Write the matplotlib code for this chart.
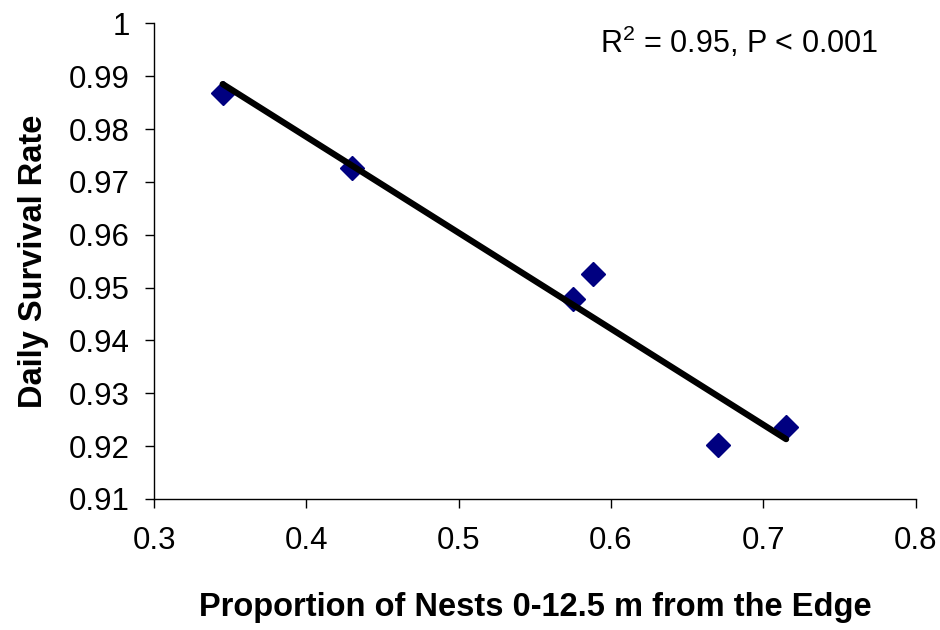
import matplotlib
matplotlib.use("Agg")
import matplotlib.pyplot as plt
import numpy as np

# nest edge proportion vs daily survival rate
edge_prop = [0.345, 0.43, 0.575, 0.588, 0.67, 0.715]
survival = [0.9868, 0.9726, 0.9478, 0.9525, 0.9202, 0.9236]

x_ticks = [0.3, 0.4, 0.5, 0.6, 0.7, 0.8]
y_ticks = [0.91, 0.92, 0.93, 0.94, 0.95, 0.96, 0.97, 0.98, 0.99, 1.0]
y_ticklabels = ["0.91", "0.92", "0.93", "0.94", "0.95", "0.96", "0.97", "0.98", "0.99", "1"]

plt.rcParams.update({
    "font.family": ["Liberation Sans", "DejaVu Sans"],
    "mathtext.default": "regular",
})

fig = plt.figure(figsize=(9.4, 6.3), dpi=100)
ax = fig.add_axes([0.164, 0.208, 0.81, 0.755])

x = np.array(edge_prop)
y = np.array(survival)
slope, intercept = np.polyfit(x, y, 1)
xs = np.array([x.min(), x.max()])
ax.plot(xs, slope * xs + intercept, color="black", linewidth=4.5,
        solid_capstyle="round", zorder=3)
ax.plot(x, y, linestyle="none", marker="D", markersize=12.5,
        color="#000080", zorder=2)

ax.set_xlim(0.3, 0.8)
ax.set_ylim(0.91, 1.0)
ax.set_xticks(x_ticks)
ax.set_xticklabels([f"{t:g}" for t in x_ticks])
ax.set_yticks(y_ticks)
ax.set_yticklabels(y_ticklabels)
ax.tick_params(direction="out", length=6.5, width=1, labelsize=22.5)
ax.tick_params(axis="y", pad=11)
ax.tick_params(axis="x", pad=13)

for side in ["top", "right"]:
    ax.spines[side].set_visible(False)
for side in ["left", "bottom"]:
    ax.spines[side].set_linewidth(1)

ax.set_xlabel("Proportion of Nests 0-12.5 m from the Edge",
              fontsize=23.5, fontweight="bold", labelpad=26)
ax.set_ylabel("Daily Survival Rate", fontsize=23.5, fontweight="bold", labelpad=14)

ax.text(0.585, 0.96, r"R$^2$ = 0.95, P < 0.001", transform=ax.transAxes,
        fontsize=22, ha="left", va="center")

fig.savefig("out.png", dpi=100)
